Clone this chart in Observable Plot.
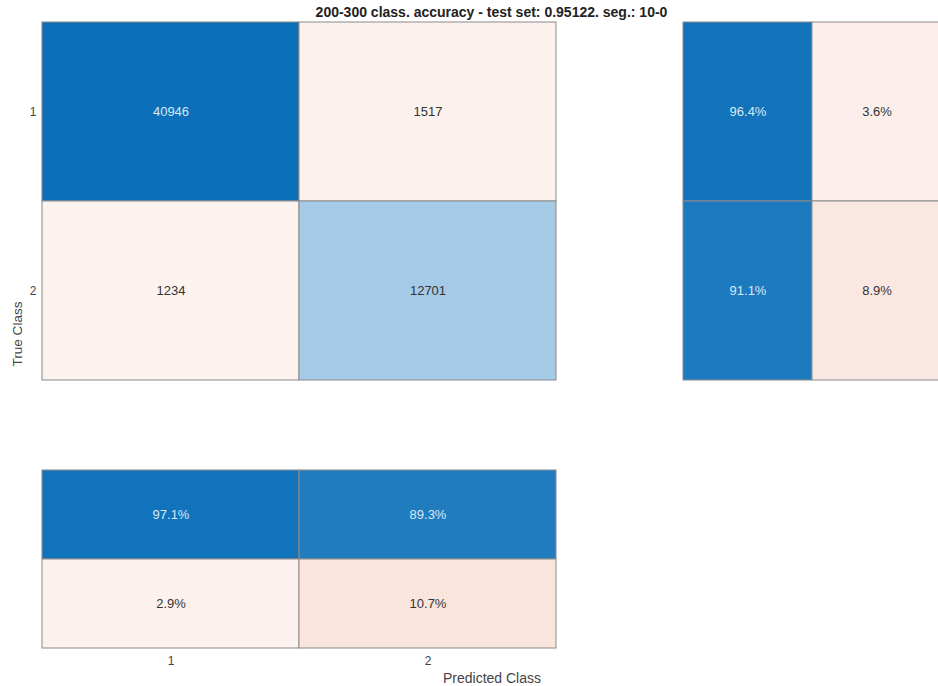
<!DOCTYPE html>
<html>
<head>
<meta charset="utf-8">
<script src="https://cdn.jsdelivr.net/npm/d3@7"></script>
<script src="https://cdn.jsdelivr.net/npm/@observablehq/plot@0.6"></script>
<style>
  html, body { margin: 0; padding: 0; background: #fff; }
  body { width: 938px; height: 686px; overflow: hidden; position: relative;
         font-family: "Liberation Sans", Arial, sans-serif; }
  .abs { position: absolute; }
  .title { left: 0; width: 983px; top: 4px; text-align: center; font-weight: bold;
           font-size: 14px; line-height: 16px; color: #222; white-space: nowrap; }
  .ylab { left: 17px; top: 334px; transform: translate(-50%, -50%) rotate(-90deg);
          font-size: 13.6px; color: #444; white-space: nowrap; }
  .xlab { left: 492px; top: 678px; transform: translate(-50%, -50%);
          font-size: 14px; color: #444; white-space: nowrap; }
  svg { max-width: none !important; }
</style>
</head>
<body>
<div class="abs title">200-300 class. accuracy - test set: 0.95122. seg.: 10-0</div>
<div class="abs ylab">True Class</div>
<div class="abs xlab">Predicted Class</div>
<div id="main" class="abs" style="left:0;top:0;width:560px"></div>
<div id="right" class="abs" style="left:640px;top:0;width:310px"></div>
<div id="bottom" class="abs" style="left:0;top:440px;width:560px"></div>
<script>
// ---- data ----
const classes = ["1", "2"];
const trueClass = ["1", "1", "2", "2"];
const predClass = ["1", "2", "1", "2"];
const counts = [40946, 1517, 1234, 12701];
const summaryKinds = ["correct", "incorrect"];
// row summary (per true class): correct %, incorrect %
const rowCorrect = [96.4, 91.1];
const rowIncorrect = [3.6, 8.9];
// column summary (per predicted class): correct %, incorrect %
const colCorrect = [97.1, 89.3];
const colIncorrect = [2.9, 10.7];

// ---- colours ----
const blue = d3.interpolateRgb("#ffffff", "#0b6fb9");
const red = d3.interpolateRgb("#fdf5f2", "#f0a890");
const blueOf = t => blue(Math.pow(t, 0.85));
const redOf = pct => red(pct / 50);
const textOf = (isBlue, t) => (isBlue && t > 0.5) ? "#d8e8f5" : "#333333";

const fontStyle = {fontFamily: "'Liberation Sans', Arial, sans-serif", fontSize: "12px", color: "#444", background: "transparent", overflow: "visible", maxWidth: "none"};
const cellStroke = "#8a8a8a";
const cellFont = 13;

// ---- main matrix ----
const total = d3.sum(counts);
const maxCount = d3.max(counts);
const mainData = counts.map((c, i) => {
  const diag = trueClass[i] === predClass[i];
  const t = c / maxCount;
  return {
    t: trueClass[i], p: predClass[i], v: c,
    fill: diag ? blueOf(t) : redOf(c / total * 100),
    color: textOf(diag, t)
  };
});

const mainPlot = Plot.plot({
  width: 560, height: 390,
  marginLeft: 42, marginRight: 4, marginTop: 22, marginBottom: 10,
  style: fontStyle,
  x: {domain: classes, padding: 0, axis: null},
  y: {domain: classes, padding: 0, tickSize: 0, tickPadding: 6, label: null},
  marks: [
    Plot.cell(mainData, {x: "p", y: "t", fill: "fill", stroke: cellStroke, strokeWidth: 1}),
    Plot.text(mainData, {x: "p", y: "t", text: d => String(d.v), fill: "color", fontSize: cellFont})
  ]
});
document.getElementById("main").appendChild(mainPlot);

// ---- row summary (right) ----
const rightData = [];
classes.forEach((c, i) => {
  rightData.push({t: c, k: "correct", v: rowCorrect[i], fill: blueOf(rowCorrect[i] / 100), color: textOf(true, rowCorrect[i] / 100)});
  rightData.push({t: c, k: "incorrect", v: rowIncorrect[i], fill: redOf(rowIncorrect[i]), color: textOf(false, 0)});
});
const rightPlot = Plot.plot({
  width: 310, height: 390,
  marginLeft: 43, marginRight: 9, marginTop: 22, marginBottom: 10,
  style: fontStyle,
  x: {domain: summaryKinds, padding: 0, axis: null},
  y: {domain: classes, padding: 0, axis: null},
  marks: [
    Plot.cell(rightData, {x: "k", y: "t", fill: "fill", stroke: cellStroke, strokeWidth: 1}),
    Plot.text(rightData, {x: "k", y: "t", text: d => d.v.toFixed(1) + "%", fill: "color", fontSize: cellFont})
  ]
});
document.getElementById("right").appendChild(rightPlot);

// ---- column summary (bottom) ----
const bottomData = [];
classes.forEach((c, i) => {
  bottomData.push({p: c, k: "correct", v: colCorrect[i], fill: blueOf(colCorrect[i] / 100), color: textOf(true, colCorrect[i] / 100)});
  bottomData.push({p: c, k: "incorrect", v: colIncorrect[i], fill: redOf(colIncorrect[i]), color: textOf(false, 0)});
});
const bottomPlot = Plot.plot({
  width: 560, height: 246,
  marginLeft: 42, marginRight: 4, marginTop: 29, marginBottom: 38,
  style: fontStyle,
  x: {domain: classes, padding: 0, tickSize: 0, tickPadding: 8, label: null},
  y: {domain: summaryKinds, padding: 0, axis: null},
  marks: [
    Plot.cell(bottomData, {x: "p", y: "k", fill: "fill", stroke: cellStroke, strokeWidth: 1}),
    Plot.text(bottomData, {x: "p", y: "k", text: d => d.v.toFixed(1) + "%", fill: "color", fontSize: cellFont})
  ]
});
document.getElementById("bottom").appendChild(bottomPlot);
</script>
</body>
</html>
